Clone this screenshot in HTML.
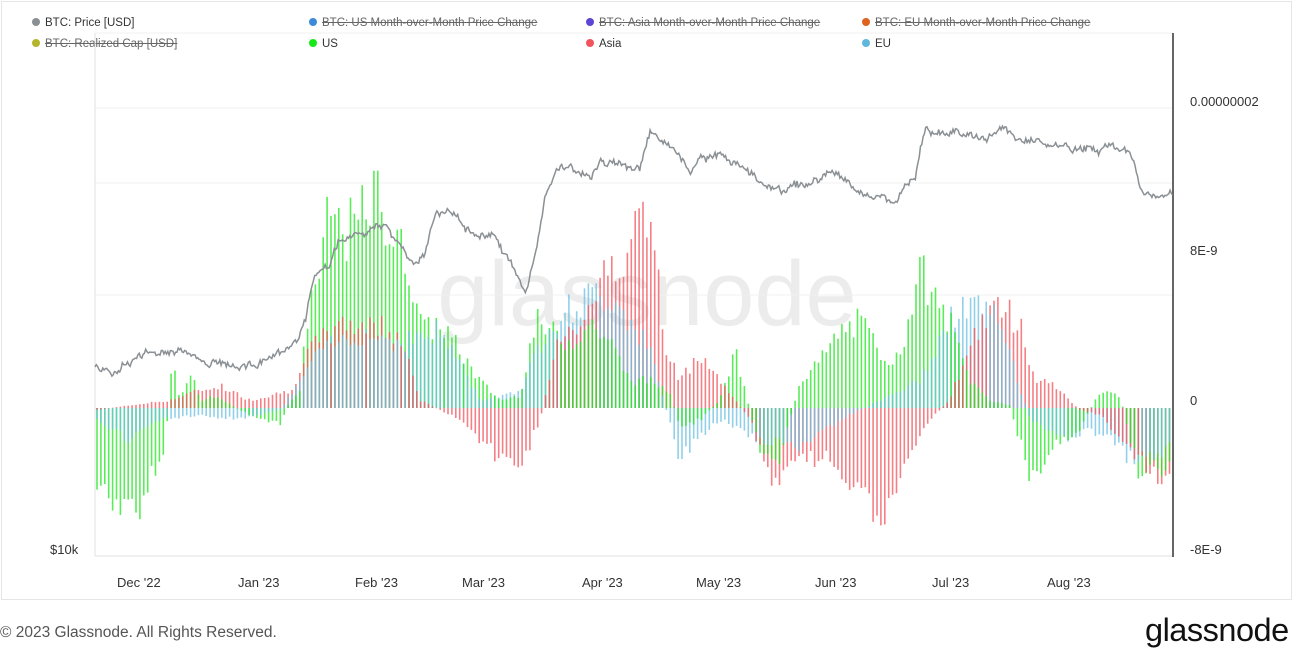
<!DOCTYPE html>
<html><head><meta charset="utf-8"><style>
html,body{margin:0;padding:0;background:#fff;}
body{width:1306px;height:658px;position:relative;overflow:hidden;font-family:"Liberation Sans",sans-serif;}
.frame{position:absolute;left:1px;top:1px;width:1289px;height:597px;border:1px solid #e6e6e6;}
.lg{position:absolute;font-size:11.5px;color:#333;white-space:nowrap;}
.lg i{display:inline-block;width:8px;height:8px;border-radius:50%;margin-right:5px;vertical-align:-0px;}
.st{text-decoration:line-through;color:#666;}
.ax{position:absolute;font-size:13px;color:#333;}
</style></head><body>
<div class="frame"></div>
<div class="lg" style="left:32px;top:17px"><i style="background:#8a8f93"></i>BTC: Price [USD]</div>
<div class="lg st" style="left:309px;top:17px"><i style="background:#3c8ad8"></i>BTC: US Month-over-Month Price Change</div>
<div class="lg st" style="left:586px;top:17px"><i style="background:#5b46d6"></i>BTC: Asia Month-over-Month Price Change</div>
<div class="lg st" style="left:862px;top:17px"><i style="background:#e0621f"></i>BTC: EU Month-over-Month Price Change</div>
<div class="lg st" style="left:32px;top:38px"><i style="background:#b5b52c"></i>BTC: Realized Cap [USD]</div>
<div class="lg" style="left:309px;top:38px"><i style="background:#17e817"></i>US</div>
<div class="lg" style="left:586px;top:38px"><i style="background:#f0545c"></i>Asia</div>
<div class="lg" style="left:862px;top:38px"><i style="background:#5fb7dc"></i>EU</div>
<svg id="s" width="1306" height="658" style="position:absolute;left:0;top:0">
<text x="647" y="325" font-size="92" fill="#ececec" text-anchor="middle" font-family="Liberation Sans,sans-serif">glassnode</text>
</svg>
<div class="ax" style="left:1190px;top:94px">0.00000002</div>
<div class="ax" style="left:1190px;top:243px">8E-9</div>
<div class="ax" style="left:1190px;top:393px">0</div>
<div class="ax" style="left:1190px;top:542px">-8E-9</div>
<div class="ax" style="left:50px;top:542px">$10k</div>
<div class="ax" style="left:117px;top:575px">Dec '22</div>
<div class="ax" style="left:238px;top:575px">Jan '23</div>
<div class="ax" style="left:355px;top:575px">Feb '23</div>
<div class="ax" style="left:462px;top:575px">Mar '23</div>
<div class="ax" style="left:582px;top:575px">Apr '23</div>
<div class="ax" style="left:696px;top:575px">May '23</div>
<div class="ax" style="left:815px;top:575px">Jun '23</div>
<div class="ax" style="left:932px;top:575px">Jul '23</div>
<div class="ax" style="left:1047px;top:575px">Aug '23</div>
<div style="position:absolute;left:0;top:624px;font-size:15.5px;color:#555">© 2023 Glassnode. All Rights Reserved.</div>
<div style="position:absolute;left:1145px;top:612px;font-size:32.5px;color:#111;letter-spacing:-0.5px">glassnode</div>
<script>
var s=document.getElementById('s'),NS='http://www.w3.org/2000/svg';
function el(t,a){var e=document.createElementNS(NS,t);for(var k in a)e.setAttribute(k,a[k]);s.appendChild(e);return e;}
[33,108,183,295].forEach(function(y){el('line',{x1:95,x2:1173,y1:y,y2:y,stroke:'#f0f0f0'});});
el('line',{x1:95,x2:95,y1:33,y2:556,stroke:'#e0e0e0'});
el('line',{x1:95,x2:1173,y1:556,y2:556,stroke:'#e0e0e0'});
el('line',{x1:1173,x2:1173,y1:33,y2:557,stroke:'#333','stroke-width':1.5});
function interp(k,x){for(var i=0;i<k.length-2;i+=2){if(x<=k[i+2]){var t=(x-k[i])/(k[i+2]-k[i]);return k[i+1]+t*(k[i+3]-k[i+1]);}}return k[k.length-1];}
var seed=7;function rnd(){seed=(seed*9301+49297)%233280;return seed/233280;}
var US=[95,490,110,505,125,520,140,505,155,470,165,450,172,360,180,400,190,370,200,400,215,395,240,410,260,420,280,425,290,400,300,390,310,290,320,270,330,205,345,230,360,215,378,190,390,225,410,265,425,330,440,320,460,350,480,380,500,400,520,395,535,320,550,330,570,340,590,320,610,340,630,380,650,380,670,390,680,430,700,420,720,400,735,350,750,410,760,450,780,460,800,380,820,360,840,330,860,320,880,350,900,360,915,275,922,270,935,300,950,320,970,380,990,400,1010,405,1030,480,1040,470,1050,460,1060,440,1080,430,1100,390,1120,395,1140,480,1160,470,1173,460];
var AS=[95,410,170,400,200,390,220,385,250,400,290,390,310,350,330,330,360,320,400,330,420,400,440,410,460,420,480,440,500,460,520,470,540,420,560,330,580,320,600,280,620,250,635,225,645,215,655,240,665,350,680,380,700,350,720,380,750,420,770,480,790,470,810,460,830,460,850,480,870,510,880,520,890,510,910,460,930,420,950,400,970,340,990,310,1000,305,1020,320,1035,380,1050,380,1080,410,1100,415,1140,460,1160,480,1173,460];
var EU=[95,420,130,440,160,420,200,415,240,420,280,410,320,350,360,330,400,340,440,330,460,360,480,400,520,390,550,320,580,300,600,290,620,300,650,350,680,460,700,440,720,420,760,440,800,450,840,420,880,400,920,380,950,320,970,300,1000,320,1030,420,1060,440,1090,430,1110,440,1130,460,1173,450];
var Z=408;
for(var x=97;x<1172;x+=3.9){
 var L=[[US,'#22e622'],[AS,'#f0545c'],[EU,'#6cc0e0']].map(function(p){var y=interp(p[0],x);y=Z+(y-Z)*(0.8+0.35*rnd());return [y,p[1]];});
 L.sort(function(a,b){return Math.abs(b[0]-Z)-Math.abs(a[0]-Z);});
 L.forEach(function(p){el('line',{x1:x.toFixed(1),x2:x.toFixed(1),y1:Z,y2:p[0].toFixed(1),stroke:p[1],'stroke-width':1.6,'stroke-opacity':0.75});});
}
var PR=[95,365,105,375,120,368,140,355,160,352,180,348,195,360,210,362,250,365,280,357,295,345,305,320,315,275,330,265,340,240,360,235,385,225,400,245,415,265,425,255,435,215,450,212,465,225,480,235,495,235,505,255,520,280,525,295,535,255,545,195,555,175,565,165,575,170,590,180,600,160,620,165,640,170,650,135,665,140,680,160,690,175,700,160,720,155,740,165,760,180,780,190,800,185,820,180,830,170,845,180,860,195,880,195,895,205,905,185,915,180,925,130,945,132,965,135,985,138,1005,128,1020,140,1040,142,1060,148,1080,150,1100,150,1110,145,1125,152,1135,165,1140,190,1150,195,1173,195];
var d='',w=0;for(var x=95;x<=1173;x+=1.3){w=w*0.8+(rnd()-0.5)*4;var y=interp(PR,x)+w+(rnd()-0.5)*5;d+=(d?'L':'M')+x.toFixed(1)+','+y.toFixed(1);}
el('path',{d:d,fill:'none',stroke:'#8a9094','stroke-width':1.5});
</script>
</body></html>
